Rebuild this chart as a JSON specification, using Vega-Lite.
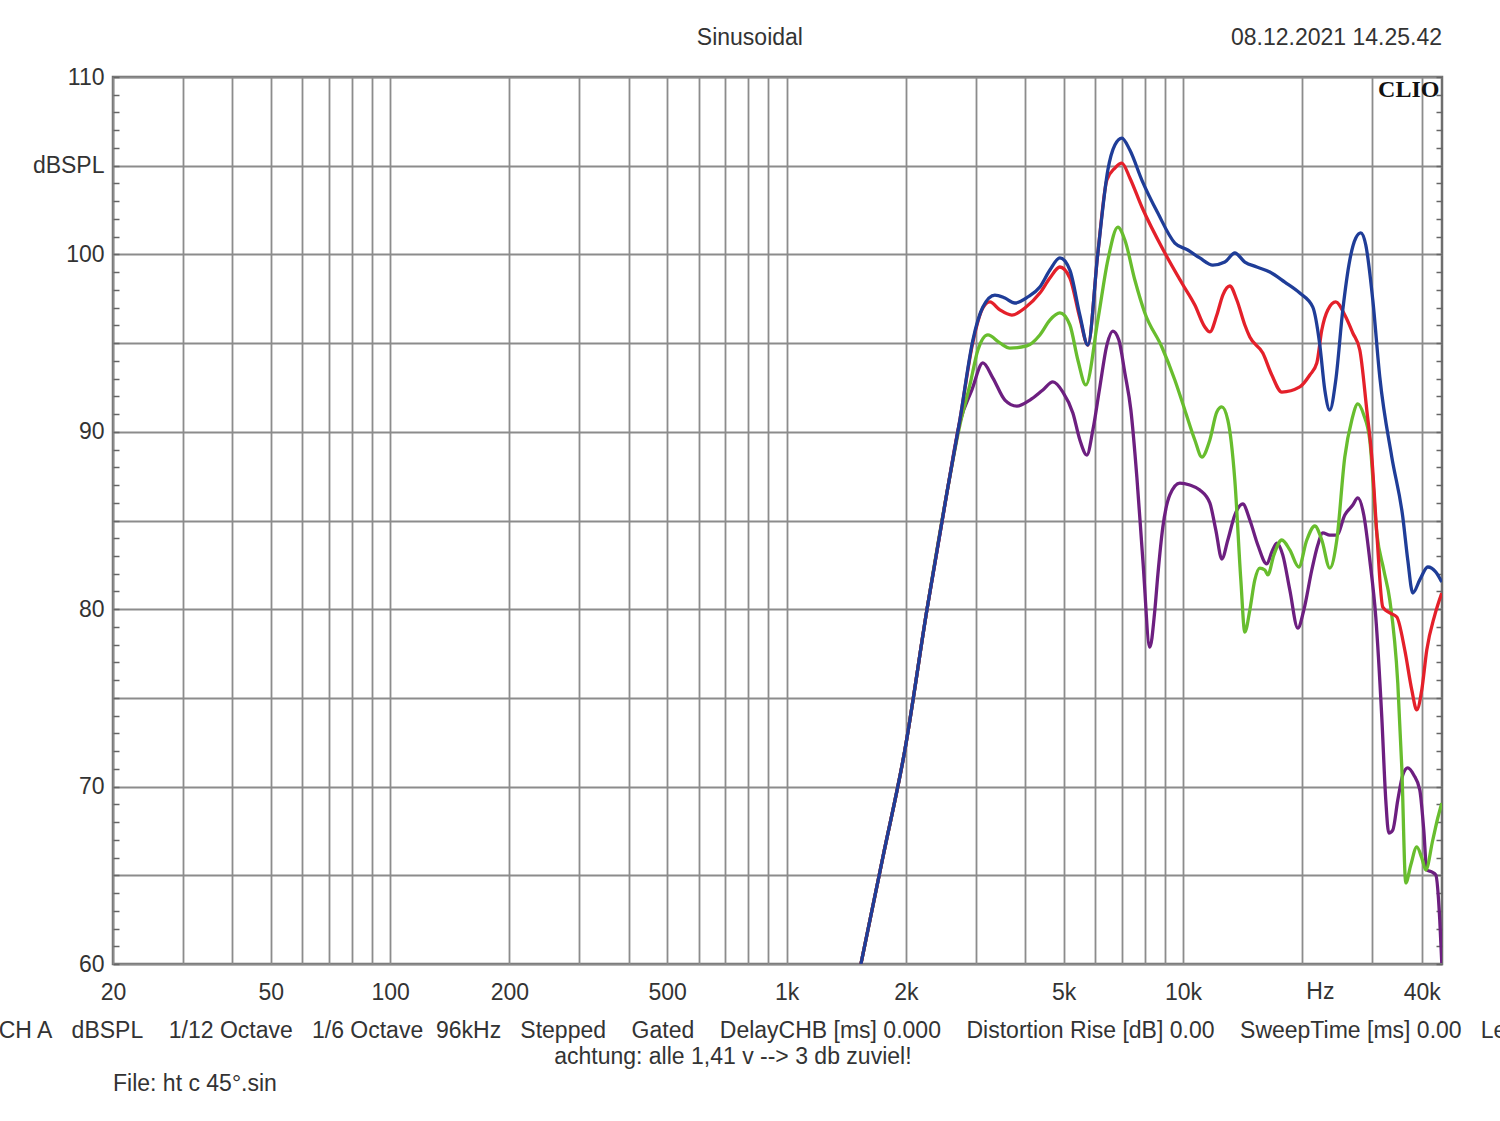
{
  "$schema": "https://vega.github.io/schema/vega-lite/v6.json",
  "autosize": {"type": "none"},
  "padding": {"left": 113, "top": 77, "right": 58, "bottom": 157},
  "width": 1329,
  "height": 887,
  "background": "white",
  "config": {
    "view": {"stroke": "#6e6e6e", "strokeWidth": 2.5},
    "font": "Liberation Sans",
    "text": {"font": "Liberation Sans"}
  },
  "datasets": {
    "curves": [
      {"s":"D","f":1540,"db":60.0},{"s":"D","f":1750,"db":66.03},{"s":"D","f":1988,"db":72.06},{"s":"D","f":2259,"db":79.95},{"s":"D","f":2537,"db":86.55},{"s":"D","f":2736,"db":90.55},{"s":"D","f":2934,"db":92.36},{"s":"D","f":3127,"db":93.88},{"s":"D","f":3315,"db":93.03},{"s":"D","f":3554,"db":91.79},{"s":"D","f":3810,"db":91.45},{"s":"D","f":4109,"db":91.79},{"s":"D","f":4431,"db":92.36},{"s":"D","f":4696,"db":92.81},{"s":"D","f":4977,"db":92.24},{"s":"D","f":5274,"db":91.06},{"s":"D","f":5493,"db":89.54},{"s":"D","f":5721,"db":88.69},{"s":"D","f":5923,"db":90.1},{"s":"D","f":6169,"db":92.53},{"s":"D","f":6425,"db":94.89},{"s":"D","f":6653,"db":95.68},{"s":"D","f":6889,"db":95.17},{"s":"D","f":7133,"db":93.31},{"s":"D","f":7386,"db":91.23},{"s":"D","f":7648,"db":87.45},{"s":"D","f":7919,"db":82.77},{"s":"D","f":8247,"db":77.87},{"s":"D","f":8490,"db":79.95},{"s":"D","f":8639,"db":81.93},{"s":"D","f":8894,"db":84.63},{"s":"D","f":9263,"db":86.44},{"s":"D","f":9816,"db":87.11},{"s":"D","f":10403,"db":87.0},{"s":"D","f":11025,"db":86.72},{"s":"D","f":11684,"db":85.99},{"s":"D","f":12098,"db":84.46},{"s":"D","f":12528,"db":82.83},{"s":"D","f":12972,"db":83.9},{"s":"D","f":13509,"db":85.31},{"s":"D","f":14152,"db":85.93},{"s":"D","f":14739,"db":85.03},{"s":"D","f":15440,"db":83.62},{"s":"D","f":16268,"db":82.55},{"s":"D","f":16747,"db":83.22},{"s":"D","f":17240,"db":83.73},{"s":"D","f":17852,"db":83.05},{"s":"D","f":18593,"db":81.08},{"s":"D","f":19477,"db":78.94},{"s":"D","f":20167,"db":79.95},{"s":"D","f":21126,"db":82.21},{"s":"D","f":21875,"db":83.62},{"s":"D","f":22519,"db":84.3},{"s":"D","f":23453,"db":84.18},{"s":"D","f":24426,"db":84.18},{"s":"D","f":25587,"db":85.31},{"s":"D","f":26804,"db":85.87},{"s":"D","f":27593,"db":86.27},{"s":"D","f":28572,"db":85.31},{"s":"D","f":29585,"db":82.77},{"s":"D","f":30633,"db":79.56},{"s":"D","f":31720,"db":73.92},{"s":"D","f":32465,"db":69.24},{"s":"D","f":33036,"db":67.38},{"s":"D","f":33812,"db":67.55},{"s":"D","f":34807,"db":69.24},{"s":"D","f":35834,"db":70.65},{"s":"D","f":36889,"db":71.05},{"s":"D","f":38197,"db":70.65},{"s":"D","f":39551,"db":69.81},{"s":"D","f":40480,"db":67.55},{"s":"D","f":41191,"db":65.3},{"s":"D","f":42406,"db":65.19},{"s":"D","f":43402,"db":65.02},{"s":"D","f":44421,"db":62.48},{"s":"D","f":44940,"db":60.06},

      {"s":"C","f":1540,"db":60.0},{"s":"C","f":1750,"db":66.03},{"s":"C","f":1988,"db":72.06},{"s":"C","f":2259,"db":79.95},{"s":"C","f":2537,"db":86.55},{"s":"C","f":2736,"db":90.38},{"s":"C","f":2900,"db":92.64},{"s":"C","f":3038,"db":94.61},{"s":"C","f":3219,"db":95.46},{"s":"C","f":3452,"db":95.01},{"s":"C","f":3658,"db":94.72},{"s":"C","f":4038,"db":94.84},{"s":"C","f":4354,"db":95.46},{"s":"C","f":4615,"db":96.3},{"s":"C","f":4891,"db":96.7},{"s":"C","f":5183,"db":96.02},{"s":"C","f":5429,"db":94.05},{"s":"C","f":5687,"db":92.64},{"s":"C","f":6098,"db":96.3},{"s":"C","f":6462,"db":99.68},{"s":"C","f":6849,"db":101.54},{"s":"C","f":7133,"db":100.81},{"s":"C","f":7559,"db":98.56},{"s":"C","f":8011,"db":96.7},{"s":"C","f":8842,"db":94.78},{"s":"C","f":9535,"db":92.92},{"s":"C","f":10105,"db":91.23},{"s":"C","f":10709,"db":89.54},{"s":"C","f":11154,"db":88.58},{"s":"C","f":11684,"db":89.54},{"s":"C","f":12169,"db":91.12},{"s":"C","f":12528,"db":91.4},{"s":"C","f":12972,"db":90.66},{"s":"C","f":13509,"db":87.28},{"s":"C","f":13989,"db":81.65},{"s":"C","f":14318,"db":78.71},{"s":"C","f":14739,"db":79.95},{"s":"C","f":15173,"db":81.65},{"s":"C","f":15620,"db":82.32},{"s":"C","f":16080,"db":82.21},{"s":"C","f":16362,"db":81.93},{"s":"C","f":16943,"db":83.05},{"s":"C","f":17749,"db":83.9},{"s":"C","f":18593,"db":83.34},{"s":"C","f":19590,"db":82.38},{"s":"C","f":20521,"db":83.9},{"s":"C","f":21497,"db":84.69},{"s":"C","f":22388,"db":83.9},{"s":"C","f":23453,"db":82.32},{"s":"C","f":24426,"db":83.9},{"s":"C","f":25587,"db":88.58},{"s":"C","f":26649,"db":90.66},{"s":"C","f":27593,"db":91.57},{"s":"C","f":28572,"db":90.95},{"s":"C","f":29585,"db":89.54},{"s":"C","f":30812,"db":84.3},{"s":"C","f":32091,"db":82.21},{"s":"C","f":33228,"db":80.52},{"s":"C","f":34807,"db":75.84},{"s":"C","f":35626,"db":71.1},{"s":"C","f":36463,"db":64.57},{"s":"C","f":37537,"db":65.58},{"s":"C","f":38868,"db":66.6},{"s":"C","f":40013,"db":65.98},{"s":"C","f":40953,"db":65.3},{"s":"C","f":42653,"db":66.99},{"s":"C","f":43908,"db":68.23},{"s":"C","f":44940,"db":69.07},

      {"s":"B","f":1540,"db":60.0},{"s":"B","f":1750,"db":66.03},{"s":"B","f":1988,"db":72.06},{"s":"B","f":2259,"db":79.95},{"s":"B","f":2537,"db":86.55},{"s":"B","f":2736,"db":90.66},{"s":"B","f":2951,"db":95.06},{"s":"B","f":3127,"db":96.98},{"s":"B","f":3257,"db":97.32},{"s":"B","f":3452,"db":96.87},{"s":"B","f":3701,"db":96.58},{"s":"B","f":3991,"db":96.98},{"s":"B","f":4354,"db":97.82},{"s":"B","f":4615,"db":98.67},{"s":"B","f":4891,"db":99.29},{"s":"B","f":5183,"db":98.67},{"s":"B","f":5493,"db":96.41},{"s":"B","f":5754,"db":94.89},{"s":"B","f":6098,"db":100.08},{"s":"B","f":6425,"db":104.19},{"s":"B","f":6731,"db":104.87},{"s":"B","f":7010,"db":105.15},{"s":"B","f":7343,"db":104.31},{"s":"B","f":7873,"db":102.67},{"s":"B","f":8998,"db":100.08},{"s":"B","f":9931,"db":98.39},{"s":"B","f":10709,"db":97.15},{"s":"B","f":11350,"db":95.91},{"s":"B","f":11684,"db":95.63},{"s":"B","f":12169,"db":96.58},{"s":"B","f":12601,"db":97.71},{"s":"B","f":13123,"db":98.22},{"s":"B","f":13667,"db":97.43},{"s":"B","f":14318,"db":96.02},{"s":"B","f":14739,"db":95.34},{"s":"B","f":15894,"db":94.44},{"s":"B","f":16747,"db":93.2},{"s":"B","f":17749,"db":92.24},{"s":"B","f":19704,"db":92.53},{"s":"B","f":20882,"db":93.2},{"s":"B","f":21748,"db":93.88},{"s":"B","f":22388,"db":95.74},{"s":"B","f":23182,"db":96.87},{"s":"B","f":24284,"db":97.32},{"s":"B","f":25587,"db":96.58},{"s":"B","f":26804,"db":95.57},{"s":"B","f":27916,"db":94.61},{"s":"B","f":29074,"db":91.23},{"s":"B","f":29931,"db":88.58},{"s":"B","f":30812,"db":84.3},{"s":"B","f":31905,"db":80.12},{"s":"B","f":33228,"db":79.79},{"s":"B","f":34606,"db":79.56},{"s":"B","f":36252,"db":77.7},{"s":"B","f":37756,"db":75.45},{"s":"B","f":38868,"db":74.32},{"s":"B","f":40013,"db":75.45},{"s":"B","f":41191,"db":77.7},{"s":"B","f":43150,"db":79.67},{"s":"B","f":44940,"db":80.91},

      {"s":"A","f":1540,"db":60.0},{"s":"A","f":1750,"db":66.03},{"s":"A","f":1988,"db":72.06},{"s":"A","f":2259,"db":79.95},{"s":"A","f":2537,"db":86.55},{"s":"A","f":2736,"db":90.66},{"s":"A","f":2951,"db":95.17},{"s":"A","f":3127,"db":97.03},{"s":"A","f":3353,"db":97.71},{"s":"A","f":3554,"db":97.54},{"s":"A","f":3766,"db":97.26},{"s":"A","f":4061,"db":97.6},{"s":"A","f":4354,"db":98.16},{"s":"A","f":4615,"db":99.12},{"s":"A","f":4891,"db":99.8},{"s":"A","f":5183,"db":99.12},{"s":"A","f":5493,"db":96.58},{"s":"A","f":5754,"db":94.89},{"s":"A","f":6098,"db":100.08},{"s":"A","f":6462,"db":104.76},{"s":"A","f":6731,"db":106.17},{"s":"A","f":7010,"db":106.56},{"s":"A","f":7343,"db":105.88},{"s":"A","f":7873,"db":104.19},{"s":"A","f":8639,"db":102.33},{"s":"A","f":9535,"db":100.64},{"s":"A","f":10283,"db":100.25},{"s":"A","f":11025,"db":99.8},{"s":"A","f":11889,"db":99.4},{"s":"A","f":12748,"db":99.57},{"s":"A","f":13509,"db":100.08},{"s":"A","f":14318,"db":99.57},{"s":"A","f":15350,"db":99.29},{"s":"A","f":16554,"db":99.01},{"s":"A","f":18061,"db":98.44},{"s":"A","f":19704,"db":97.82},{"s":"A","f":21249,"db":97.03},{"s":"A","f":22130,"db":94.9},{"s":"A","f":22782,"db":92.36},{"s":"A","f":23453,"db":91.23},{"s":"A","f":24284,"db":92.92},{"s":"A","f":25292,"db":96.87},{"s":"A","f":26341,"db":99.68},{"s":"A","f":27275,"db":100.92},{"s":"A","f":28078,"db":101.21},{"s":"A","f":28905,"db":100.53},{"s":"A","f":30105,"db":97.43},{"s":"A","f":31354,"db":93.09},{"s":"A","f":33616,"db":88.58},{"s":"A","f":35834,"db":85.2},{"s":"A","f":36889,"db":82.77},{"s":"A","f":37976,"db":80.91},{"s":"A","f":39551,"db":81.65},{"s":"A","f":41431,"db":82.38},{"s":"A","f":43402,"db":82.1},{"s":"A","f":44940,"db":81.53}
    ]
  },
  "resolve": {"axis": {"y": "independent"}},
  "layer": [
    {
      "data": {"name": "curves"},
      "mark": {"type": "line", "interpolate": "monotone", "strokeWidth": 3.3, "clip": true},
      "encoding": {
        "x": {
          "field": "f", "type": "quantitative",
          "scale": {"type": "log", "domain": [20, 45000], "nice": false},
          "axis": {
            "values": [20,30,40,50,60,70,80,90,100,200,300,400,500,600,700,800,900,1000,2000,3000,4000,5000,6000,7000,8000,9000,10000,20000,30000,40000],
            "labelExpr": "datum.value==20?'20':datum.value==50?'50':datum.value==100?'100':datum.value==200?'200':datum.value==500?'500':datum.value==1000?'1k':datum.value==2000?'2k':datum.value==5000?'5k':datum.value==10000?'10k':datum.value==40000?'40k':''",
            "labelFontSize": 23, "labelColor": "#333333", "labelFont": "Liberation Sans",
            "labelPadding": 17, "labelFlush": false, "labelBound": false, "labelOverlap": false,
            "ticks": false, "domain": false, "title": null,
            "grid": true, "gridColor": "#8c8c8c", "gridWidth": 1.8
          }
        },
        "y": {
          "field": "db", "type": "quantitative",
          "scale": {"domain": [60, 110], "nice": false, "zero": false},
          "axis": {
            "values": [60,61,62,63,64,65,66,67,68,69,70,71,72,73,74,75,76,77,78,79,80,81,82,83,84,85,86,87,88,89,90,91,92,93,94,95,96,97,98,99,100,101,102,103,104,105,106,107,108,109,110],
            "labelExpr": "datum.value == 105 ? 'dBSPL' : (datum.value % 10 == 0 ? '' + datum.value : '')",
            "labelFontSize": 23, "labelColor": "#333333", "labelFont": "Liberation Sans",
            "labelPadding": 15, "labelOverlap": false, "labelFlush": false, "labelBound": false,
            "tickSize": -6, "tickColor": "#666666", "tickWidth": 1.5,
            "domain": false, "title": null,
            "grid": true, "gridColor": "#8c8c8c", "gridWidth": 1.8,
            "gridOpacity": {"condition": {"test": "datum.value % 5 == 0", "value": 1}, "value": 0}
          }
        },
        "color": {
          "field": "s", "type": "nominal",
          "scale": {"domain": ["A", "B", "C", "D"], "range": ["#1f3d98", "#e4202a", "#68bd2e", "#6d1f80"]},
          "legend": null
        }
      }
    },
    {
      "data": {"name": "curves"},
      "mark": {"type": "point", "opacity": 0},
      "encoding": {
        "x": {"field": "f", "type": "quantitative"},
        "y": {
          "field": "db", "type": "quantitative",
          "axis": {
            "orient": "right",
            "values": [60,61,62,63,64,65,66,67,68,69,70,71,72,73,74,75,76,77,78,79,80,81,82,83,84,85,86,87,88,89,90,91,92,93,94,95,96,97,98,99,100,101,102,103,104,105,106,107,108,109,110],
            "labels": false, "grid": false, "domain": false, "title": null,
            "tickSize": -6, "tickColor": "#666666", "tickWidth": 1.5
          }
        }
      }
    },
    {
      "data": {"values": [{"t": "Hz"}]},
      "mark": {"type": "text", "align": "center", "baseline": "middle", "fontSize": 23, "color": "#333333"},
      "encoding": {
        "x": {"datum": 22200, "type": "quantitative"},
        "y": {"datum": 58.4, "type": "quantitative", "axis": null},
        "text": {"field": "t"}
      }
    },
    {
      "data": {"values": [{"t": "Sinusoidal"}]},
      "mark": {"type": "text", "align": "center", "baseline": "middle", "fontSize": 23, "color": "#333333"},
      "encoding": {
        "x": {"datum": 808, "type": "quantitative"},
        "y": {"datum": 112.2, "type": "quantitative", "axis": null},
        "text": {"field": "t"}
      }
    },
    {
      "data": {"values": [{"t": "08.12.2021 14.25.42"}]},
      "mark": {"type": "text", "align": "right", "baseline": "middle", "fontSize": 23, "color": "#333333"},
      "encoding": {
        "x": {"datum": 45000, "type": "quantitative"},
        "y": {"datum": 112.2, "type": "quantitative", "axis": null},
        "text": {"field": "t"}
      }
    },
    {
      "data": {"values": [{"t": "CLIO"}]},
      "mark": {"type": "text", "align": "center", "baseline": "middle", "fontSize": 24, "font": "Liberation Serif", "fontWeight": "bold", "color": "#111111"},
      "encoding": {
        "x": {"datum": 37100, "type": "quantitative"},
        "y": {"datum": 109.27, "type": "quantitative", "axis": null},
        "text": {"field": "t"}
      }
    },
    {
      "data": {"values": [{"t": "CH A\u00a0\u00a0\u00a0dBSPL\u00a0\u00a0\u00a0\u00a01/12 Octave\u00a0\u00a0\u00a01/6 Octave\u00a0\u00a096kHz\u00a0\u00a0\u00a0Stepped\u00a0\u00a0\u00a0\u00a0Gated\u00a0\u00a0\u00a0\u00a0DelayCHB [ms] 0.000\u00a0\u00a0\u00a0\u00a0Distortion Rise [dB] 0.00\u00a0\u00a0\u00a0\u00a0SweepTime [ms] 0.00\u00a0\u00a0\u00a0Le"}]},
      "mark": {"type": "text", "align": "left", "baseline": "middle", "fontSize": 23, "color": "#333333"},
      "encoding": {
        "x": {"datum": 10.3, "type": "quantitative"},
        "y": {"datum": 56.22, "type": "quantitative", "axis": null},
        "text": {"field": "t"}
      }
    },
    {
      "data": {"values": [{"t": "achtung: alle 1,41 v --> 3 db zuviel!"}]},
      "mark": {"type": "text", "align": "center", "baseline": "middle", "fontSize": 23, "color": "#333333"},
      "encoding": {
        "x": {"datum": 732, "type": "quantitative"},
        "y": {"datum": 54.76, "type": "quantitative", "axis": null},
        "text": {"field": "t"}
      }
    },
    {
      "data": {"values": [{"t": "File: ht c 45°.sin"}]},
      "mark": {"type": "text", "align": "left", "baseline": "middle", "fontSize": 23, "color": "#333333"},
      "encoding": {
        "x": {"datum": 20, "type": "quantitative"},
        "y": {"datum": 53.24, "type": "quantitative", "axis": null},
        "text": {"field": "t"}
      }
    }
  ]
}
